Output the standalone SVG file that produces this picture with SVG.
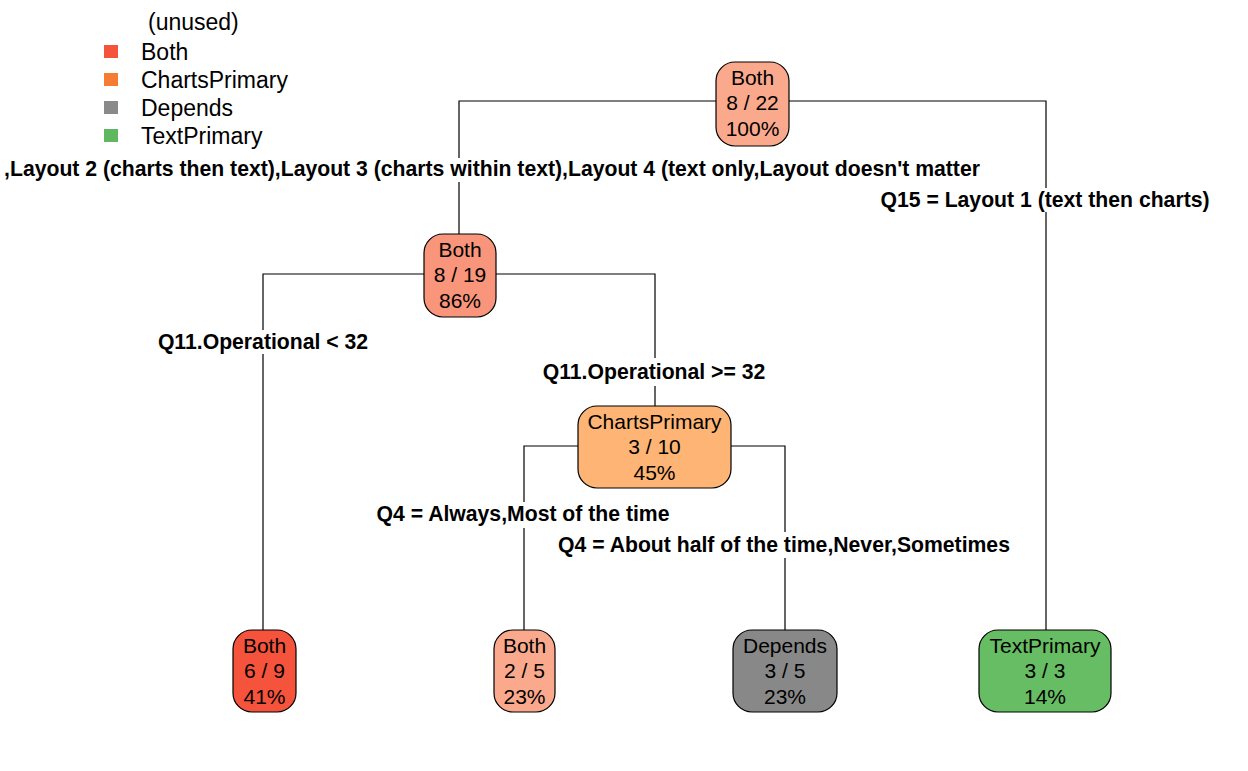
<svg xmlns="http://www.w3.org/2000/svg" width="1248" height="771" viewBox="0 0 1248 771">
<style>
.n{stroke:#000;stroke-width:1.2}
.t{font-family:"Liberation Sans",Arial,sans-serif;font-size:21px;text-anchor:middle;fill:#000}
.l{font-family:"Liberation Sans",Arial,sans-serif;font-size:21.2px;font-weight:bold;text-anchor:middle;fill:#000}
.g{font-family:"Liberation Sans",Arial,sans-serif;font-size:23px;fill:#000}
.c{fill:none;stroke:#000;stroke-width:1.2}
</style>
<rect width="1248" height="771" fill="#fff"/>
<g id="legend">
<text class="g" x="148" y="30">(unused)</text>
<rect x="104" y="45" width="14" height="13" fill="#F5533B"/><text class="g" x="141" y="60">Both</text>
<rect x="104" y="73" width="14" height="13" fill="#F67B33"/><text class="g" x="141" y="88">ChartsPrimary</text>
<rect x="104" y="101" width="14" height="13" fill="#8A8A8A"/><text class="g" x="141" y="116">Depends</text>
<rect x="104" y="129" width="14" height="13" fill="#5FB760"/><text class="g" x="141" y="144">TextPrimary</text>
</g>
<g id="connectors">
<path class="c" d="M716,101H459V158M459,182V234M789,101H1046V188M1046,212V630"/>
<path class="c" d="M424,274H263V330M263,354V630M496,274H655V358M655,386V406"/>
<path class="c" d="M578,446H524V502M524,528V630M731,446H785V532M785,558V630"/>
</g>
<g id="labels">
<text class="l" x="492" y="176">,Layout 2 (charts then text),Layout 3 (charts within text),Layout 4 (text only,Layout doesn't matter</text>
<text class="l" x="1045" y="207">Q15 = Layout 1 (text then charts)</text>
<text class="l" x="263" y="349">Q11.Operational &lt; 32</text>
<text class="l" x="654" y="379">Q11.Operational &gt;= 32</text>
<text class="l" x="523" y="521">Q4 = Always,Most of the time</text>
<text class="l" x="784" y="552">Q4 = About half of the time,Never,Sometimes</text>
</g>
<g id="root">
<rect class="n" x="716" y="62" width="73" height="84" rx="19" fill="#FBA98C"/>
<text class="t" x="752.5" y="85">Both</text><text class="t" x="752.5" y="110">8 / 22</text><text class="t" x="752.5" y="136">100%</text>
</g>
<g id="node2">
<rect class="n" x="424" y="234" width="72" height="83" rx="19" fill="#F9957A"/>
<text class="t" x="460" y="257">Both</text><text class="t" x="460" y="282">8 / 19</text><text class="t" x="460" y="308">86%</text>
</g>
<g id="node3">
<rect class="n" x="578" y="406" width="153" height="82" rx="19" fill="#FDB474"/>
<text class="t" x="654.5" y="429">ChartsPrimary</text><text class="t" x="654.5" y="454">3 / 10</text><text class="t" x="654.5" y="480">45%</text>
</g>
<g id="leaf1">
<rect class="n" x="233" y="630" width="63" height="82" rx="19" fill="#F5533B"/>
<text class="t" x="264.5" y="653">Both</text><text class="t" x="264.5" y="678">6 / 9</text><text class="t" x="264.5" y="704">41%</text>
</g>
<g id="leaf2">
<rect class="n" x="494" y="630" width="61" height="82" rx="19" fill="#FBA98C"/>
<text class="t" x="524.5" y="653">Both</text><text class="t" x="524.5" y="678">2 / 5</text><text class="t" x="524.5" y="704">23%</text>
</g>
<g id="leaf3">
<rect class="n" x="733" y="630" width="104" height="82" rx="19" fill="#888888"/>
<text class="t" x="785" y="653">Depends</text><text class="t" x="785" y="678">3 / 5</text><text class="t" x="785" y="704">23%</text>
</g>
<g id="leaf4">
<rect class="n" x="979" y="630" width="132" height="82" rx="19" fill="#66BD63"/>
<text class="t" x="1045" y="653">TextPrimary</text><text class="t" x="1045" y="678">3 / 3</text><text class="t" x="1045" y="704">14%</text>
</g>
</svg>
